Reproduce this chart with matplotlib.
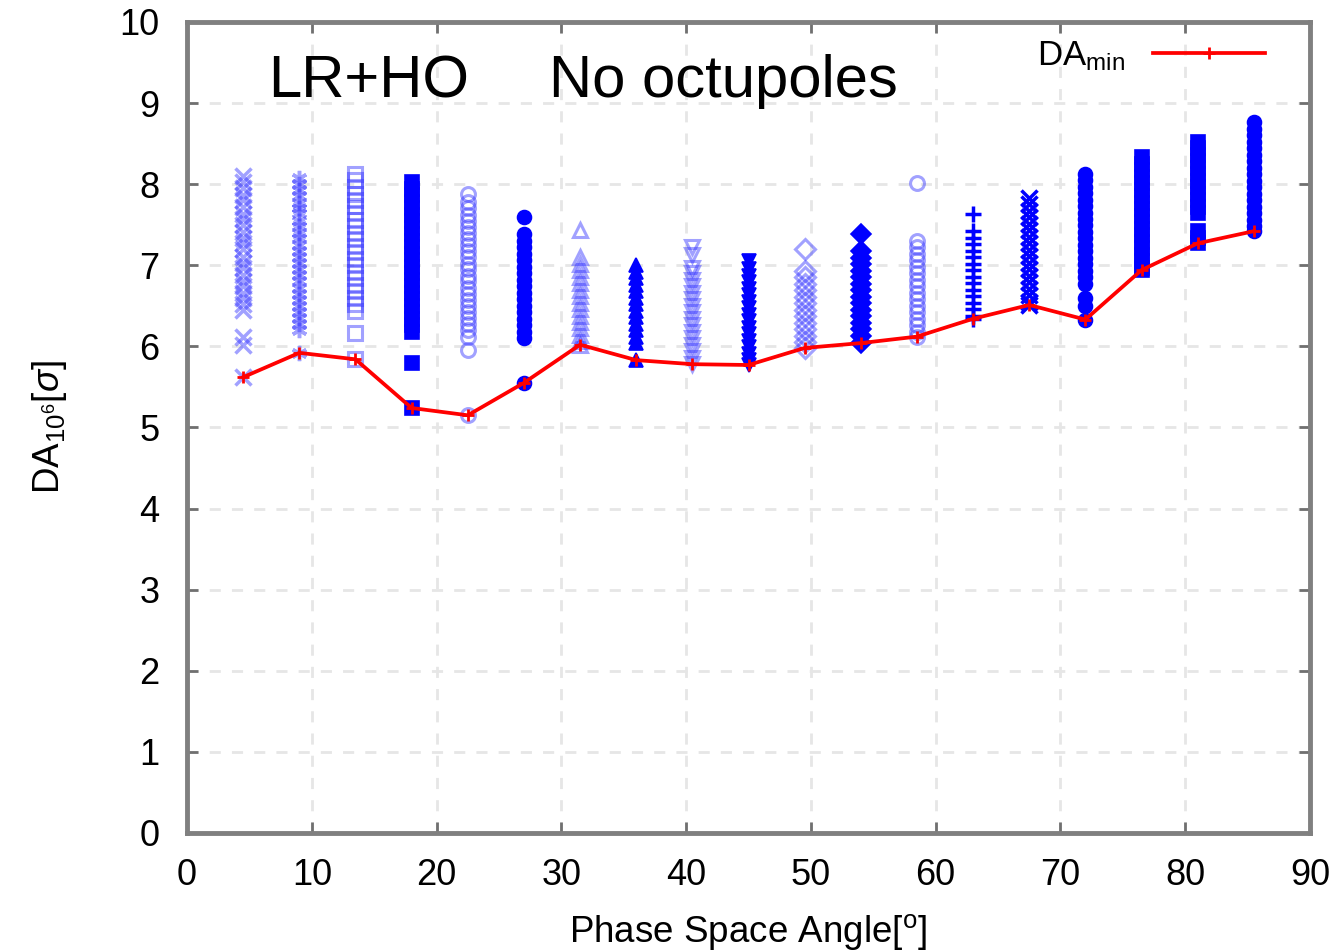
import matplotlib
matplotlib.use('Agg')
import matplotlib.pyplot as plt

plt.rcParams['font.family'] = ['Liberation Sans', 'DejaVu Sans']
plt.rcParams['mathtext.fontset'] = 'custom'
plt.rcParams['mathtext.rm'] = 'Liberation Sans'
plt.rcParams['mathtext.it'] = 'Liberation Sans:italic'

# Phase space angles (deg)
angles = [4.5, 9, 13.5, 18, 22.5, 27, 31.5, 36, 40.5, 45,
          49.5, 54, 58.5, 63, 67.5, 72, 76.5, 81, 85.5]

# minimum dynamic aperture per angle
da_min = [5.62, 5.92, 5.84, 5.24, 5.15, 5.55, 6.02, 5.83, 5.78, 5.77,
          5.98, 6.04, 6.12, 6.34, 6.51, 6.33, 6.94, 7.27, 7.42]

# DA values for every seed, per angle
da_seeds = [
    [8.1, 8.02, 7.95, 7.86, 7.8, 7.72, 7.63, 7.57, 7.5, 7.41, 7.33, 7.27, 7.2,
     7.1, 7.03, 6.97, 6.88, 6.8, 6.74, 6.66, 6.6, 6.52, 6.45, 6.12, 6.02, 5.62],
    [8.08, 8.0, 7.93, 7.85, 7.77, 7.7, 7.64, 7.55, 7.48, 7.4, 7.33, 7.25, 7.18,
     7.1, 7.03, 6.95, 6.88, 6.8, 6.72, 6.65, 6.57, 6.5, 6.42, 6.35, 6.27, 6.2, 5.92],
    [8.12, 8.05, 7.96, 7.88, 7.8, 7.73, 7.64, 7.56, 7.48, 7.4, 7.32, 7.24, 7.16,
     7.08, 7.0, 6.92, 6.84, 6.76, 6.68, 6.6, 6.52, 6.44, 6.17, 5.84],
    [8.02, 7.94, 7.86, 7.78, 7.7, 7.62, 7.54, 7.46, 7.38, 7.3, 7.22, 7.14, 7.06,
     6.98, 6.9, 6.82, 6.74, 6.66, 6.58, 6.5, 6.42, 6.34, 6.26, 6.18, 5.8, 5.24],
    [7.88, 7.78, 7.7, 7.62, 7.55, 7.47, 7.4, 7.32, 7.25, 7.17, 7.1, 7.02, 6.95,
     6.87, 6.8, 6.72, 6.65, 6.57, 6.5, 6.42, 6.35, 6.27, 6.2, 6.12, 5.95, 5.15],
    [7.6, 7.38, 7.3, 7.22, 7.14, 7.06, 6.98, 6.9, 6.82, 6.74, 6.66, 6.58, 6.5,
     6.42, 6.34, 6.26, 6.18, 6.1, 5.55],
    [7.43, 7.1, 7.02, 6.94, 6.86, 6.78, 6.7, 6.62, 6.54, 6.46, 6.38, 6.3, 6.22,
     6.14, 6.06, 6.02],
    [7.0, 6.92, 6.84, 6.76, 6.68, 6.6, 6.52, 6.44, 6.36, 6.28, 6.2, 6.12, 6.04, 5.83],
    [7.22, 7.12, 6.97, 6.9, 6.82, 6.74, 6.66, 6.58, 6.5, 6.42, 6.34, 6.26, 6.18,
     6.1, 6.02, 5.94, 5.86, 5.78],
    [7.05, 6.95, 6.87, 6.79, 6.71, 6.63, 6.55, 6.47, 6.39, 6.31, 6.23, 6.15, 6.07,
     5.99, 5.91, 5.83, 5.77],
    [7.2, 6.93, 6.85, 6.77, 6.69, 6.61, 6.53, 6.45, 6.37, 6.29, 6.21, 6.13, 6.05, 5.98],
    [7.38, 7.17, 7.09, 7.01, 6.93, 6.85, 6.77, 6.69, 6.61, 6.53, 6.45, 6.37, 6.29,
     6.21, 6.13, 6.04],
    [8.01, 7.3, 7.22, 7.14, 7.06, 6.98, 6.9, 6.82, 6.74, 6.66, 6.58, 6.5, 6.42,
     6.34, 6.26, 6.18, 6.12],
    [7.63, 7.42, 7.34, 7.26, 7.18, 7.1, 7.02, 6.94, 6.86, 6.78, 6.7, 6.62, 6.54,
     6.46, 6.38, 6.34],
    [7.83, 7.75, 7.67, 7.59, 7.51, 7.43, 7.35, 7.27, 7.19, 7.11, 7.03, 6.95, 6.87,
     6.79, 6.71, 6.63, 6.55, 6.51],
    [8.13, 8.05, 7.97, 7.89, 7.81, 7.73, 7.65, 7.57, 7.49, 7.41, 7.33, 7.25, 7.17,
     7.09, 7.01, 6.93, 6.85, 6.77, 6.6, 6.5, 6.33],
    [8.33, 8.25, 8.17, 8.09, 8.01, 7.93, 7.85, 7.77, 7.69, 7.61, 7.53, 7.45, 7.37,
     7.29, 7.21, 7.13, 7.05, 6.97, 6.94],
    [8.52, 8.44, 8.36, 8.28, 8.2, 8.12, 8.04, 7.96, 7.88, 7.8, 7.72, 7.64, 7.42,
     7.34, 7.27],
    [8.76, 8.68, 8.6, 8.52, 8.44, 8.36, 8.28, 8.2, 8.12, 8.04, 7.96, 7.88, 7.8,
     7.72, 7.64, 7.56, 7.48, 7.42],
]

# gnuplot-like point types per column: (marker, filled)
asterisk = (6, 2, 0)
styles = [('x', False), (asterisk, False), ('s', False), ('s', True),
          ('o', False), ('o', True), ('^', False), ('^', True),
          ('v', False), ('v', True), ('D', False), ('D', True),
          ('o', False), ('+', True), ('x', True), ('o', True),
          ('s', True), ('s', True), ('o', True)]

blue = '#0000ff'
light = '#3030ff'

fig = plt.figure(figsize=(13.39, 9.52), dpi=100)
ax = fig.add_axes([0.1397, 0.125, 0.8386, 0.852])

for ang, vals, (mk, filled) in zip(angles, da_seeds, styles):
    xs = [ang] * len(vals)
    if mk in ('x', '+') or mk == asterisk:
        ax.plot(xs, vals, ls='none', marker=mk, ms=11, mew=2.5,
                color=blue if filled else light, alpha=1 if filled else 0.45)
    elif filled:
        ax.plot(xs, vals, ls='none', marker=mk, ms=10, mew=1.2,
                color=blue, mfc=blue)
    else:
        ax.plot(xs, vals, ls='none', marker=mk, ms=10, mew=2.2,
                color=light, mfc='none', alpha=0.45)

ax.plot(angles, da_min, '-', color='#ff0000', lw=2.7, marker='+',
        ms=9, mew=2, label=r'DA$_{\rm min}$', zorder=5)

ax.set_xlim(0, 90)
ax.set_ylim(0, 10)
ax.set_xticks(range(0, 91, 10))
ax.set_yticks(range(0, 11, 1))
ax.grid(True, color='#e6e6e6', ls=(0, (4, 4)), lw=2)
ax.set_axisbelow(True)
for sp in ax.spines.values():
    sp.set_color('#808080')
    sp.set_linewidth(3.5)
ax.tick_params(direction='in', length=8, width=2, color='#707070',
               labelsize=26, top=True, right=True)
ax.tick_params(axis='x', pad=18)
ax.tick_params(axis='y', pad=20)

ax.set_xlabel('Phase Space Angle[$^{\\rm o}$]', fontsize=26.5, labelpad=14)
ax.set_ylabel(r'DA$_{10^6}$[$\sigma$]', fontsize=26.5, labelpad=36)

ax.text(6.5, 9.26, 'LR+HO', fontsize=43, va='center', ha='left')
ax.text(29, 9.26, 'No octupoles', fontsize=43, va='center', ha='left')

ax.legend(loc='upper right', frameon=False, fontsize=25, markerfirst=False,
          handlelength=3.2, handletextpad=0.8, borderaxespad=0.1,
          bbox_to_anchor=(0.975, 1.0))

fig.savefig('out.png', dpi=100)
